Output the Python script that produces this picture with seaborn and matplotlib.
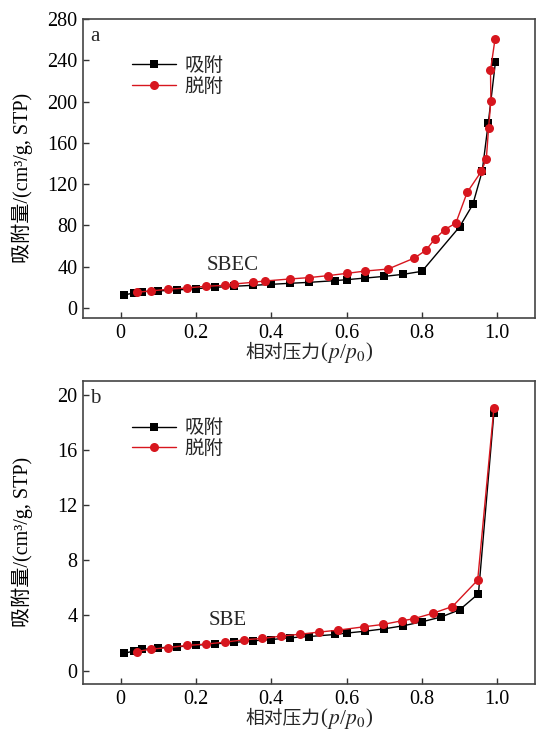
import matplotlib
matplotlib.use("Agg")
import matplotlib.pyplot as plt
from matplotlib.offsetbox import TextArea, HPacker, AnchoredOffsetbox
import seaborn as sns
import pandas as pd

sns.set_theme(style="white")
FAMILY = ["Liberation Serif", "Noto Sans CJK SC", "DejaVu Sans"]
plt.rcParams["font.family"] = FAMILY
plt.rcParams["mathtext.fontset"] = "stix"

# SBEC isotherm
sbec_ads_p = [0.01, 0.034, 0.057, 0.10, 0.15, 0.20, 0.25, 0.30, 0.35, 0.40, 0.45, 0.50,
              0.57, 0.60, 0.65, 0.70, 0.75, 0.80, 0.90, 0.935, 0.96, 0.976, 0.995]
sbec_ads_v = [12.6, 14.5, 15.8, 16.5, 17.4, 18.7, 20.0, 21.0, 21.9, 22.9, 23.9, 24.8,
              26.5, 27.4, 29.0, 30.6, 32.6, 35.5, 78.7, 100.3, 132.6, 179.0, 238.0]
sbec_des_p = [0.042, 0.080, 0.125, 0.176, 0.226, 0.276, 0.30, 0.35, 0.382, 0.45, 0.50, 0.55,
              0.60, 0.65, 0.71, 0.78, 0.81, 0.834, 0.86, 0.89, 0.92, 0.958, 0.971, 0.977,
              0.983, 0.982, 0.994]
sbec_des_v = [15.2, 16.5, 18.1, 19.4, 21.0, 21.9, 23.2, 24.8, 26.1, 28.1, 29.4, 31.3,
              33.5, 35.8, 37.7, 48.4, 55.8, 66.8, 75.8, 82.3, 112.0, 132.6, 144.8, 174.8,
              200.6, 230.3, 260.6]

# SBE isotherm
sbe_ads_p = [0.01, 0.034, 0.057, 0.10, 0.15, 0.20, 0.25, 0.30, 0.35, 0.40, 0.45, 0.50,
             0.57, 0.60, 0.65, 0.70, 0.75, 0.80, 0.85, 0.90, 0.95, 0.991]
sbe_ads_v = [1.26, 1.41, 1.53, 1.65, 1.72, 1.84, 1.94, 2.04, 2.16, 2.25, 2.38, 2.47,
             2.62, 2.72, 2.86, 3.03, 3.25, 3.54, 3.88, 4.41, 5.58, 18.7]
sbe_des_p = [0.042, 0.08, 0.126, 0.176, 0.226, 0.276, 0.327, 0.376, 0.426, 0.477, 0.526,
             0.576, 0.647, 0.697, 0.746, 0.778, 0.828, 0.881, 0.948, 0.991]
sbe_des_v = [1.38, 1.55, 1.67, 1.82, 1.92, 2.06, 2.23, 2.33, 2.50, 2.64, 2.79, 2.93,
             3.18, 3.35, 3.61, 3.76, 4.15, 4.65, 6.57, 19.05]

legend_labels = ["吸附", "脱附"]
panel_letters = ["a", "b"]
sample_names = ["SBEC", "SBE"]
y_ticks = [[0, 40, 80, 120, 160, 200, 240, 280], [0, 4, 8, 12, 16, 20]]
x_ticks = [0, 0.2, 0.4, 0.6, 0.8, 1.0]
x_tick_labels = ["0", "0.2", "0.4", "0.6", "0.8", "1.0"]
y_label = "吸附量/(cm³/g, STP)"

RED = "#d7161e"
TICK_FS = 14.5
LABEL_FS = 14.5


def pressure_label(ax, offset):
    """Relative-pressure axis title: CJK text plus an italic p/p0 in math mode."""
    parts = [
        TextArea("相对压力", textprops=dict(fontsize=13.5, family=FAMILY)),
        TextArea("(", textprops=dict(fontsize=15, family=FAMILY)),
        TextArea(r"$p$/$p_0$", textprops=dict(fontsize=15.5)),
        TextArea(")", textprops=dict(fontsize=15, family=FAMILY)),
    ]
    row = HPacker(children=parts, align="baseline", pad=0, sep=0)
    box = AnchoredOffsetbox(loc="upper center", child=row, pad=0, borderpad=0,
                            frameon=False, bbox_to_anchor=(0.5, offset),
                            bbox_transform=ax.transAxes)
    ax.add_artist(box)


fig = plt.figure(figsize=(5.36, 7.35), dpi=100)
ax_a = fig.add_axes([0.155, 0.567, 0.843, 0.407])
ax_b = fig.add_axes([0.155, 0.069, 0.843, 0.412])

panels = [
    (ax_a, sbec_ads_p, sbec_ads_v, sbec_des_p, sbec_des_v, (-10, 280), (0.297, 41.5), -0.078),
    (ax_b, sbe_ads_p, sbe_ads_v, sbe_des_p, sbe_des_v, (-1, 21), (0.283, 3.6), -0.077),
]

for i, (ax, ap, av, dp, dv, ylim, name_pos, xl_off) in enumerate(panels):
    ads = pd.DataFrame({"p": ap, "v": av})
    des = pd.DataFrame({"p": dp, "v": dv})
    sns.lineplot(data=ads, x="p", y="v", ax=ax, sort=False, color="black",
                 marker="s", markersize=5.5, markeredgewidth=0, linewidth=1.0,
                 label=legend_labels[0])
    sns.lineplot(data=des, x="p", y="v", ax=ax, sort=False, color=RED,
                 marker="o", markersize=6.5, markeredgewidth=0, linewidth=1.0,
                 label=legend_labels[1])

    ax.set_xlim(-0.1, 1.1)
    ax.set_ylim(*ylim)
    ax.set_xticks(x_ticks)
    ax.set_xticklabels(x_tick_labels)
    ax.set_yticks(y_ticks[i])
    ax.tick_params(direction="in", length=4, width=1, colors="#333333",
                   labelcolor="black", labelsize=TICK_FS, pad=4,
                   left=True, bottom=True, top=False, right=False)
    for sp in ax.spines.values():
        sp.set_color("#444444")
        sp.set_linewidth(1.2)

    ax.set_xlabel("")
    pressure_label(ax, xl_off)
    ax.set_ylabel(y_label, fontsize=LABEL_FS, color="black")
    ax.yaxis.set_label_coords(-0.111, 0.47)

    ax.text(0.015, 0.975, panel_letters[i], transform=ax.transAxes, fontsize=15,
            ha="left", va="top")
    ax.text(name_pos[0], name_pos[1], sample_names[i], fontsize=15,
            ha="center", va="center")

    ax.legend(loc="upper left", bbox_to_anchor=(0.09, 0.9), frameon=False,
              fontsize=14, handlelength=2.3, handletextpad=0.4,
              labelspacing=0.15, borderaxespad=0)

fig.savefig("out.png", dpi=100)
